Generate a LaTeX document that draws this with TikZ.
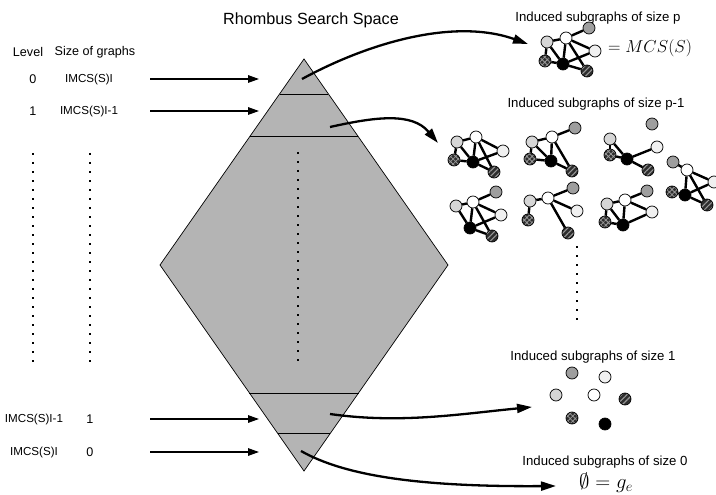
\documentclass[tikz,border=0pt]{standalone}
\usepackage{fontspec}
\newfontfamily\labelsans{Liberation Sans}
\usetikzlibrary{arrows.meta,patterns.meta,calc}

\definecolor{rhombgray}{RGB}{180,180,180}

\tikzset{
  lbl/.style={font=\labelsans\fontsize{13.2}{15}\selectfont, inner sep=0pt},
  lvl/.style={font=\labelsans\fontsize{12.6}{15}\selectfont, inner sep=0pt},
  szl/.style={font=\labelsans\fontsize{11.6}{14}\selectfont, inner sep=0pt},
  ttl/.style={font=\labelsans\fontsize{16.2}{19}\selectfont, inner sep=0pt},
  mth/.style={font=\fontsize{17.5}{20}\selectfont, inner sep=0pt},
  bigmth/.style={font=\fontsize{21}{24}\selectfont, inner sep=0pt},
  dotline/.style={line width=1.4pt, dash pattern=on 2pt off 7pt},
  levelarrow/.style={line width=1.4pt, -{Triangle[length=11pt,width=7.5pt]}},
  bigarrow/.style={line width=2.3pt, -{Triangle[length=15pt,width=9pt]}},
  edge/.style={line width=2.4pt},
  vtx/.style={circle, draw, line width=0.7pt, minimum size=12pt, inner sep=0pt},
  na/.style={vtx, fill=black!16},
  nb/.style={vtx, fill=white},
  nc/.style={vtx, fill=black!38},
  nd/.style={vtx, fill=black!6},
  ne/.style={vtx, preaction={fill=black!82},
    pattern={Hatch[angle=45,distance=3.6pt,line width=0.8pt]}, pattern color=black!40},
  nf/.style={vtx, fill=black},
  ng/.style={vtx, preaction={fill=black!82},
    pattern={Lines[angle=45,distance=3.8pt,line width=1.1pt]}, pattern color=black!40},
}

\begin{document}
\begin{tikzpicture}[x=1pt,y=-1pt]
\useasboundingbox (0,0) rectangle (716,495);

% ---------- rhombus search space ----------
\coordinate (rt) at (304,59);
\coordinate (rr) at (448,265);
\coordinate (rb) at (304,471);
\coordinate (rl) at (160,265);
\draw[fill=rhombgray, line width=0.7pt] (rt) -- (rr) -- (rb) -- (rl) -- cycle;
\draw[line width=0.7pt] ($(rt)!0.170!(rl)$) -- ($(rt)!0.170!(rr)$);
\draw[line width=0.7pt] ($(rt)!0.374!(rl)$) -- ($(rt)!0.374!(rr)$);
\draw[line width=0.7pt] ($(rb)!0.379!(rl)$) -- ($(rb)!0.379!(rr)$);
\draw[line width=0.7pt] ($(rb)!0.184!(rl)$) -- ($(rb)!0.184!(rr)$);
\coordinate (rdt) at (298,152);
\coordinate (rdb) at (298,362);
\draw[dotline] (rdt) -- (rdb);

\node[ttl] (title) at (311,20) {Rhombus Search Space};

% ---------- level column ----------
\node[lvl] (hlevel) at (28,52) {Level};
\node[lvl] (hsize)  at (95,52) {Size of graphs};
\node[lvl] (lv0) at (33,79) {0};
\node[szl] (sz0) at (89,79) {IMCS(S)I};
\node[lvl] (lv1) at (33,111) {1};
\node[szl] (sz1) at (89,111) {IMCS(S)I-1};
\node[szl] (lvn1) at (34,419) {IMCS(S)I-1};
\node[lvl] (szn1) at (90,419) {1};
\node[szl] (lvn) at (34,452) {IMCS(S)I};
\node[lvl] (szn) at (90,452) {0};

\coordinate (dla) at (33,153);
\coordinate (dlb) at (33,362);
\coordinate (dsa) at (90,153);
\coordinate (dsb) at (90,362);
\draw[dotline] (dla) -- (dlb);
\draw[dotline] (dsa) -- (dsb);

\foreach \yy/\nm in {79/a,111/b,419/c,452/d}{
  \coordinate (ls\nm) at (150,\yy);
  \coordinate (le\nm) at (259,\yy);
  \draw[levelarrow] (ls\nm) -- (le\nm);
}

% ---------- right-hand labels ----------
\node[lbl] (tp)  at (598,18)  {Induced subgraphs of size p};
\node[mth] (mcs) at (650,48)  {$=MCS(S)$};
\node[lbl] (tp1) at (596,104) {Induced subgraphs of size p-1};
\node[lbl] (t1)  at (593,357) {Induced subgraphs of size 1};
\node[lbl] (t0)  at (605,462) {Induced subgraphs of size 0};
\node[bigmth, anchor=base] (ge) at (606,488) {$\emptyset = g_e$};

\coordinate (rda) at (577,246);
\coordinate (rdb2) at (577,326);
\draw[dotline] (rda) -- (rdb2);

% ---------- curved arrows ----------
\coordinate (c1s) at (302,79);
\coordinate (c1e) at (528,44);
\draw[bigarrow] (c1s) .. controls (370,42) and (455,18) .. (c1e);
\coordinate (c2s) at (330,127);
\coordinate (c2e) at (438,143);
\draw[bigarrow] (c2s) .. controls (375,117) and (412,112) .. (c2e);
\coordinate (c3s) at (330,414);
\coordinate (c3e) at (532,407);
\draw[bigarrow] (c3s) .. controls (400,424) and (460,414) .. (c3e);
\coordinate (c4s) at (301,451);
\coordinate (c4e) at (556,486);
\draw[bigarrow] (c4s) .. controls (345,476) and (420,487) .. (c4e);

% ---------- subgraph of size p (the MCS) ----------
\node[na] (sa) at (547,42) {};
\node[nb] (sb) at (566,38) {};
\node[nc] (sc) at (589,28) {};
\node[nd] (sd) at (595,51) {};
\node[ne] (se) at (545,61) {};
\node[nf] (sf) at (563,64) {};
\node[ng] (sg) at (587,71) {};
\foreach \u/\v in {a/b,b/c,b/d,b/f,b/g,a/e,a/f,e/f,f/g,f/d}
  \draw[edge] (s\u) -- (s\v);

% ---------- subgraphs of size p-1 ----------
% without c
\node[na] (pa) at (457,142) {};
\node[nb] (pb) at (476,137) {};
\node[nd] (pd) at (503,151) {};
\node[ne] (pe) at (454,160) {};
\node[nf] (pf) at (473,162) {};
\node[ng] (pg) at (494,172) {};
\foreach \u/\v in {a/b,b/d,b/f,b/g,a/e,a/f,e/f,f/g,f/d}
  \draw[edge] (p\u) -- (p\v);

% without d
\node[na] (qa) at (532,142) {};
\node[nb] (qb) at (552,137) {};
\node[nc] (qc) at (575,128) {};
\node[ne] (qe) at (530,159) {};
\node[nf] (qf) at (551,161) {};
\node[ng] (qg) at (572,171) {};
\foreach \u/\v in {a/b,b/c,b/f,b/g,a/e,a/f,e/f,f/g}
  \draw[edge] (q\u) -- (q\v);

% without b
\node[nc] (rc) at (652,124) {};
\node[na] (ra) at (610,139) {};
\node[nd] (rd) at (657,147) {};
\node[ne] (re) at (610,155) {};
\node[nf] (rf) at (627,159) {};
\node[ng] (rg) at (648,170) {};
\foreach \u/\v in {a/e,a/f,e/f,f/g,f/d}
  \draw[edge] (r\u) -- (r\v);

% without a
\node[nc] (uc) at (673,162) {};
\node[nb] (ub) at (687,170) {};
\node[nd] (ud) at (714,182) {};
\node[ne] (ue) at (672,192) {};
\node[nf] (uf) at (685,195) {};
\node[ng] (ug) at (707,205) {};
\foreach \u/\v in {b/c,b/d,b/f,b/g,e/f,f/g,f/d}
  \draw[edge] (u\u) -- (u\v);

% without e
\node[na] (va) at (456,206) {};
\node[nb] (vb) at (473,202) {};
\node[nc] (vc) at (496,192) {};
\node[nd] (vd) at (501,215) {};
\node[nf] (vf) at (470,228) {};
\node[ng] (vg) at (492,236) {};
\foreach \u/\v in {a/b,b/c,b/d,b/f,b/g,a/f,f/g,f/d}
  \draw[edge] (v\u) -- (v\v);

% without f
\node[na] (wa) at (530,201) {};
\node[nb] (wb) at (548,198) {};
\node[nc] (wc) at (573,188) {};
\node[nd] (wd) at (577,211) {};
\node[ne] (we) at (528,220) {};
\node[ng] (wg) at (568,233) {};
\foreach \u/\v in {a/b,b/c,b/d,b/g,a/e}
  \draw[edge] (w\u) -- (w\v);

% without g
\node[na] (xa) at (607,204) {};
\node[nb] (xb) at (625,200) {};
\node[nc] (xc) at (647,191) {};
\node[nd] (xd) at (652,212) {};
\node[ne] (xe) at (605,222) {};
\node[nf] (xf) at (623,225) {};
\foreach \u/\v in {a/b,b/c,b/d,b/f,a/e,a/f,e/f,f/d}
  \draw[edge] (x\u) -- (x\v);

% ---------- subgraphs of size 1 ----------
\node[nc] (oc) at (572,373) {};
\node[nd] (od) at (605,377) {};
\node[na] (oa) at (556,395) {};
\node[nb] (ob) at (594,395) {};
\node[ng] (og) at (625,399) {};
\node[ne] (oe) at (572,418) {};
\node[nf] (of) at (605,424) {};

\end{tikzpicture}
\end{document}
